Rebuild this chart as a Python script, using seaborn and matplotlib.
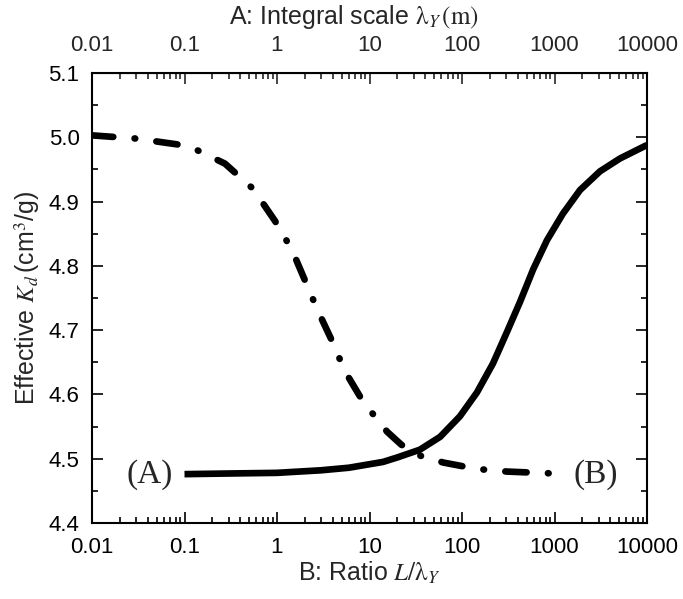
import numpy as np
import pandas as pd
import matplotlib
matplotlib.use("Agg")
import matplotlib.pyplot as plt
import seaborn as sns
from matplotlib.ticker import FixedLocator, FixedFormatter, LogLocator, NullFormatter, MultipleLocator

# ---- data ----
curve_a_x = [0.1, 0.3, 1, 3, 6, 14, 20, 35, 58, 95, 145, 216, 306, 424, 590,
             830, 1230, 1890, 3100, 5100, 10000]
curve_a_y = [4.476, 4.477, 4.478, 4.482, 4.486, 4.495, 4.502, 4.514, 4.534, 4.566,
             4.603, 4.648, 4.697, 4.744, 4.795, 4.840, 4.881, 4.918, 4.947, 4.967, 4.988]

curve_b_x = [0.01, 0.03, 0.083, 0.124, 0.274, 0.55, 0.95, 1.45, 2.01, 2.77, 3.94,
             5.43, 8.5, 15.5, 22, 33, 63, 146, 306, 1000]
curve_b_y = [5.003, 4.998, 4.989, 4.983, 4.959, 4.920, 4.870, 4.825, 4.777, 4.730,
             4.683, 4.636, 4.589, 4.542, 4.522, 4.506, 4.494, 4.484, 4.480, 4.477]

x_ticks = [0.01, 0.1, 1, 10, 100, 1000, 10000]
x_tick_labels = ["0.01", "0.1", "1", "10", "100", "1000", "10000"]
y_ticks = [4.4, 4.5, 4.6, 4.7, 4.8, 4.9, 5.0, 5.1]
y_tick_labels = ["4.4", "4.5", "4.6", "4.7", "4.8", "4.9", "5.0", "5.1"]

df_a = pd.DataFrame({"x": curve_a_x, "y": curve_a_y})
df_b = pd.DataFrame({"x": curve_b_x, "y": curve_b_y})

sns.set_style("ticks")
plt.rcParams["font.family"] = ["Liberation Sans", "DejaVu Sans"]
plt.rcParams["mathtext.fontset"] = "stix"

fig = plt.figure(figsize=(6.83, 5.99), dpi=100)
ax = fig.add_axes([92 / 683, 1 - 523 / 599, (647 - 92) / 683, (523 - 73) / 599])

sns.lineplot(data=df_a, x="x", y="y", ax=ax, color="black", linewidth=4.8,
             solid_capstyle="butt", solid_joinstyle="round")
sns.lineplot(data=df_b, x="x", y="y", ax=ax, color="black", linewidth=4.8)
lb = ax.lines[-1]
lb.set_dashes((3.2, 3.2, 0.1, 3.2))
lb.set_dash_capstyle("round")

ax.set_xscale("log")
ax.set_xlim(0.01, 10000)
ax.set_ylim(4.4, 5.1)

ax.xaxis.set_major_locator(FixedLocator(x_ticks))
ax.xaxis.set_major_formatter(FixedFormatter(x_tick_labels))
ax.xaxis.set_minor_locator(LogLocator(base=10, subs=np.arange(2, 10), numticks=20))
ax.xaxis.set_minor_formatter(NullFormatter())
ax.yaxis.set_major_locator(FixedLocator(y_ticks))
ax.yaxis.set_major_formatter(FixedFormatter(y_tick_labels))
ax.yaxis.set_minor_locator(MultipleLocator(0.05))

for s in ax.spines.values():
    s.set_linewidth(1.5)
    s.set_color("black")

ax.tick_params(which="both", direction="in", top=False, right=True,
               labelsize=16, colors="black", width=1.2)
ax.tick_params(which="major", length=8)
ax.tick_params(which="minor", length=4)
ax.tick_params(axis="x", which="major", pad=10)
ax.tick_params(axis="y", which="major", pad=9)

secax = ax.secondary_xaxis("top")
secax.xaxis.set_major_locator(FixedLocator(x_ticks))
secax.xaxis.set_major_formatter(FixedFormatter(x_tick_labels))
secax.xaxis.set_minor_locator(LogLocator(base=10, subs=np.arange(2, 10), numticks=20))
secax.xaxis.set_minor_formatter(NullFormatter())
secax.tick_params(which="both", direction="in", labelsize=16, width=1.2)
secax.tick_params(which="major", length=8, pad=12)
secax.tick_params(which="minor", length=4)
secax.set_xlabel(r"A: Integral scale $\mathrm{λ}_Y\,\mathrm{(m)}$", fontsize=18, labelpad=8)
secax.xaxis.label.set_x(0.472)

ax.set_xlabel(r"B: Ratio $L/\mathrm{λ}_Y$", fontsize=18, labelpad=1)
ax.set_ylabel(r"Effective $K_d\,$(cm$^3$/g)", fontsize=18, labelpad=5)

ax.text(0.0424, 4.475, "(A)", fontsize=24, family="Liberation Serif",
        ha="center", va="center")
ax.text(2810, 4.475, "(B)", fontsize=24, family="Liberation Serif",
        ha="center", va="center")

fig.savefig("out.png", dpi=100)
